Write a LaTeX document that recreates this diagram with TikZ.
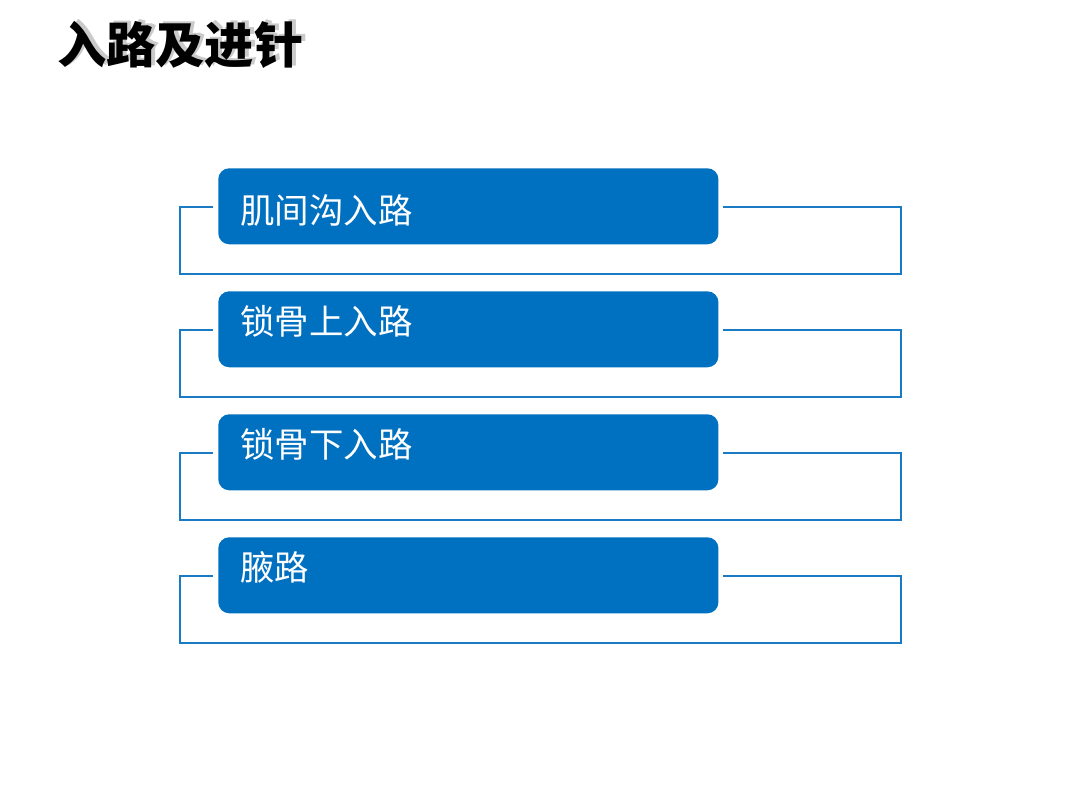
\documentclass[tikz,border=0pt]{standalone}
\usepackage{fontspec}
\setmainfont{Noto Sans CJK SC}
\usetikzlibrary{calc}
\usetikzlibrary{positioning}
\definecolor{routeblue}{HTML}{0070C0}
\definecolor{framblue}{HTML}{1B7AC4}
\tikzset{
  routebox/.style={fill=routeblue, rounded corners=11*0.025cm, minimum width=12.5cm, minimum height=1.9cm, inner sep=0},
  routetext/.style={white, anchor=west, inner sep=0, font=\fontsize{24.5}{28}\selectfont},
  frameline/.style={framblue, line width=2.1pt},
  titletext/.style={anchor=west, inner sep=0, font=\fontsize{35}{40}\selectfont\bfseries}
}

\begin{document}
\begin{tikzpicture} [x=0.025cm, y=-0.025cm]
\useasboundingbox (0,0) rectangle (1080,810);
% title with soft shadow
\node[titletext, black!35, opacity=.6] (shade) at (61,43) {入路及进针};
\node[titletext] (title) at (57,45) {入路及进针};
% the four routes
\foreach \i/\txt/\tshift in {1/肌间沟入路/42, 2/锁骨上入路/30, 3/锁骨下入路/30, 4/腋路/30} {
  \pgfmathsetmacro{\top}{168+123*(\i-1)}
  \node[routebox, anchor=north west] (box\i) at (218,\top) {};
  \node[routetext] (lab\i) at (240,\top+\tshift) {\txt};
  \coordinate (tl\i) at (180,\top+39);
  \coordinate (tr\i) at (901,\top+39);
  \coordinate (bl\i) at (180,\top+106);
  \coordinate (br\i) at (901,\top+106);
  \draw[frameline] ([xshift=-5*0.025cm]box\i.west |- tl\i) -- (tl\i) -- (bl\i) -- (br\i) -- (tr\i) -- ([xshift=4*0.025cm]box\i.east |- tr\i);
}
\end{tikzpicture}
\end{document}
